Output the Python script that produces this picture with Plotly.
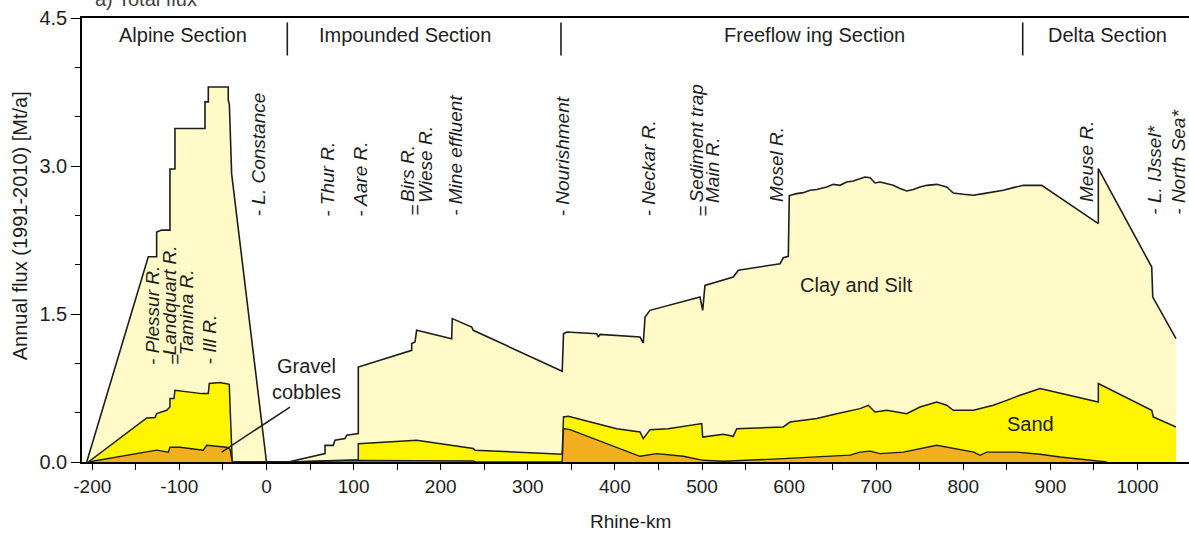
import plotly.graph_objects as go

# ---------------- data (Rhine-km, Mt/a) ----------------
total_km = [-206.4, -135.7, -126.1, -126.1, -120.3, -110.8, -110.8, -105.1, -105.1, -70.6, -70.6, -66.8, -66.8,
            -43.9, -43.9, -42.6, -40.0, 0.0,
            25.0, 67.2, 67.2, 76.7, 78.6, 90.1, 92.1, 105.4, 105.4, 166.7, 166.7, 170.5, 172.4, 212.6, 213.3,
            235.6, 237.4, 339.5, 341.0, 344.7, 379.1, 380.9, 382.9, 428.8, 432.6, 434.6, 440.3, 497.7, 500.8,
            503.4, 535.9, 541.7, 589.6, 593.3, 599.1, 600.2, 608.7, 616.3, 624.0, 631.7, 643.2, 650.7, 658.4,
            666.1, 673.7, 681.4, 687.1, 692.9, 698.6, 704.4, 712.1, 719.6, 727.3, 735.0, 742.6, 750.3, 758.0,
            769.5, 780.9, 788.5, 800.0, 811.5, 823.0, 834.4, 845.9, 857.4, 868.9, 890.0, 955.0, 955.0, 1016.3,
            1017.5, 1044.2]
total_flux = [0, 2.08, 2.08, 2.33, 2.35, 2.35, 2.97, 2.97, 3.38, 3.38, 3.65, 3.65, 3.80, 3.80, 3.67, 3.62, 2.92, 0,
              0, 0.085, 0.169, 0.169, 0.22, 0.237, 0.271, 0.288, 0.963, 1.132, 1.20, 1.216, 1.335, 1.25, 1.453,
              1.368, 1.335, 0.919, 1.30, 1.318, 1.30, 1.267, 1.294, 1.267, 1.206, 1.47, 1.537, 1.672, 1.537,
              1.79, 1.875, 1.943, 2.01, 2.07, 2.085, 2.70, 2.72, 2.73, 2.754, 2.761, 2.787, 2.814, 2.804,
              2.838, 2.848, 2.872, 2.888, 2.882, 2.828, 2.838, 2.822, 2.804, 2.771, 2.747, 2.761, 2.787, 2.804,
              2.814, 2.787, 2.726, 2.713, 2.703, 2.72, 2.736, 2.754, 2.781, 2.804, 2.804, 2.416, 2.974, 1.976,
              1.672, 1.25]

sand_km = [-204.6, -137.5, -128.0, -126.1, -114.6, -110.8, -110.8, -106.2, -105.1, -74.4, -66.8, -65.7, -53.4,
           -42.7, -41.9, -39.3, 25.0, 101.7, 105.4, 105.4, 168.3, 172.4, 237.4, 239.3, 339.5, 341.0, 346.5,
           380.9, 402.1, 428.8, 432.6, 440.3, 461.3, 499.7, 500.8, 524.5, 535.9, 539.9, 593.3, 601.0, 631.7,
           654.7, 681.4, 690.9, 698.6, 712.1, 735.0, 750.3, 769.5, 780.9, 788.5, 811.5, 834.4, 849.8, 865.1,
           888.1, 955.0, 955.0, 1016.3, 1018.1, 1044.2]
sand_top = [0, 0.446, 0.45, 0.49, 0.524, 0.557, 0.643, 0.643, 0.727, 0.693, 0.693, 0.795, 0.805, 0.787, 0.59, 0,
            0, 0.024, 0.024, 0.186, 0.213, 0.22, 0.136, 0.12, 0.078, 0.456, 0.463, 0.389, 0.338, 0.304, 0.237,
            0.328, 0.338, 0.389, 0.253, 0.281, 0.26, 0.338, 0.355, 0.405, 0.44, 0.49, 0.541, 0.575, 0.507,
            0.524, 0.49, 0.557, 0.608, 0.575, 0.524, 0.524, 0.575, 0.625, 0.676, 0.744, 0.608, 0.795, 0.524,
            0.456, 0.355]

gravel_km = [-204.6, -126.1, -112.7, -110.8, -99.3, -72.6, -68.7, -45.7, -41.9, -39.3, 25.0, 105.4, 237.4,
             240.0, 339.5, 341.0, 348.5, 371.4, 402.1, 428.8, 447.9, 478.5, 501.4, 524.4, 593.3, 669.9, 681.4,
             692.9, 704.4, 731.1, 769.5, 788.5, 812.0, 819.2, 826.9, 861.3, 888.1, 911.1, 949.3, 964.7]
gravel_top = [0, 0.12, 0.10, 0.15, 0.15, 0.12, 0.17, 0.15, 0.13, 0, 0, 0.015, 0.01, 0, 0, 0.338, 0.328, 0.253,
              0.152, 0.058, 0.085, 0.058, 0.017, 0.007, 0.034, 0.07, 0.10, 0.11, 0.085, 0.10, 0.169, 0.136,
              0.10, 0.068, 0.10, 0.10, 0.078, 0.051, 0.01, 0]

x_tick_vals = list(range(-200, 1001, 100))
x_tick_text = [str(v) for v in x_tick_vals]
x_minor_vals = list(range(-150, 1000, 100))
y_tick_vals = [0, 1.5, 3.0, 4.5]
y_tick_text = ["0.0", "1.5", "3.0", "4.5"]
y_minor_vals = [0.5, 1.0, 2.0, 2.5, 3.5, 4.0]

section_names = ["Alpine Section", "Impounded Section", "Freeflow ing Section", "Delta Section"]
section_centers_km = [-95.9, 159.0, 629.7, 965.0]
section_bounds_km = [23.9, 338.1, 868.2]

trib_labels = ["- Plessur R.", "Landquart R.", "Tamina R.", "=", "- Ill R.", "- L. Constance", "- Thur R.",
               "- Aare R.", "Birs R.", "Wiese R.", "=", "- Mine effluent", "- Nourishment", "- Neckar R.",
               "Sediment trap", "Main R.", "=", "Mosel R.", "Meuse R.", "- L. IJssel*", "- North Sea*"]
trib_km = [-130.3, -111.9, -92.4, -105.1, -64.9, -9.8, 70.6, 108.5, 162.5, 183.1, 170.5, 217.6, 339.3, 438.0,
           493.1, 512.6, 501.1, 586.1, 942.0, 1019.9, 1047.5]
trib_base = [0.968, 1.061, 1.061, 0.968, 0.968, 2.47, 2.47, 2.47, 2.61, 2.61, 2.47, 2.47, 2.47, 2.47,
             2.61, 2.61, 2.47, 2.61, 2.61, 2.49, 2.49]

# ---------------- styling ----------------
LINE = "#1e1e1e"
TXT = "#1e1e1e"
FONT = "Liberation Sans, Arial, sans-serif"

fig = go.Figure()
fig.add_trace(go.Scatter(x=total_km, y=total_flux, mode="lines", fill="tozeroy",
                         fillcolor="#FFFAC8", line=dict(color=LINE, width=1.6), hoverinfo="skip"))
fig.add_trace(go.Scatter(x=sand_km, y=sand_top, mode="lines", fill="tozeroy",
                         fillcolor="#FFF500", line=dict(color=LINE, width=1.5), hoverinfo="skip"))
fig.add_trace(go.Scatter(x=gravel_km, y=gravel_top, mode="lines", fill="tozeroy",
                         fillcolor="#F2B020", line=dict(color=LINE, width=1.4), hoverinfo="skip"))

ann = []
for name, xc in zip(section_names, section_centers_km):
    ann.append(dict(x=xc, y=4.325, xref="x", yref="y", text=name, showarrow=False,
                    font=dict(size=20, color=TXT, family=FONT), xanchor="center", yanchor="middle"))
for t, xk, yb in zip(trib_labels, trib_km, trib_base):
    ann.append(dict(x=xk, y=yb, xref="x", yref="y", text="<i>%s</i>" % t, showarrow=False, textangle=-90,
                    font=dict(size=19, color=TXT, family=FONT), xanchor="center", yanchor="bottom"))
ann.append(dict(x=45.4, y=0.838, xref="x", yref="y", text="Gravel<br>cobbles", showarrow=False,
                font=dict(size=20, color=TXT, family=FONT), xanchor="center", yanchor="middle"))
ann.append(dict(x=677.6, y=1.791, xref="x", yref="y", text="Clay and Silt", showarrow=False,
                font=dict(size=20, color=TXT, family=FONT), xanchor="center", yanchor="middle"))
ann.append(dict(x=877.5, y=0.389, xref="x", yref="y", text="Sand", showarrow=False,
                font=dict(size=20, color=TXT, family=FONT), xanchor="center", yanchor="middle"))
ann.append(dict(x=-0.0565, y=2.394, xref="paper", yref="y", text="Annual flux (1991-2010) [Mt/a]",
                showarrow=False, textangle=-90, font=dict(size=20, color=TXT, family=FONT),
                xanchor="center", yanchor="middle"))
ann.append(dict(x=417.9, y=-0.133, xref="x", yref="paper", text="Rhine-km", showarrow=False,
                font=dict(size=19, color=TXT, family=FONT), xanchor="center", yanchor="middle"))
ann.append(dict(x=0.0099, y=1.0135, xref="paper", yref="paper", text="a) Total flux", showarrow=False,
                font=dict(size=20, color="#444", family=FONT), xanchor="left", yanchor="bottom"))

shapes = []
for b in section_bounds_km:
    shapes.append(dict(type="line", xref="x", yref="y", x0=b, x1=b, y0=4.12, y1=4.455,
                       line=dict(color=LINE, width=1.6)))
shapes.append(dict(type="line", xref="x", yref="y", x0=27.0, y0=0.557, x1=-51.4, y1=0.101,
                   line=dict(color=LINE, width=1.5)))

fig.update_layout(
    width=1189, height=535, margin=dict(l=82, r=0, t=18, b=73),
    paper_bgcolor="white", plot_bgcolor="white", showlegend=False,
    font=dict(family=FONT, color=TXT),
    annotations=ann, shapes=shapes,
    xaxis=dict(range=[-211.8, 1059.1], showgrid=False, zeroline=False, showline=True, linecolor="black",
               linewidth=1.5, mirror=True, ticks="outside", ticklen=6, tickwidth=1.3, tickcolor="black",
               tickmode="array", tickvals=x_tick_vals, ticktext=x_tick_text,
               tickfont=dict(size=19, color=TXT, family=FONT),
               minor=dict(tickmode="array", tickvals=x_minor_vals, ticks="outside", ticklen=6, tickwidth=1.3,
                          tickcolor="black", showgrid=False)),
    yaxis=dict(range=[0, 4.5], showgrid=False, zeroline=False, showline=True, linecolor="black",
               linewidth=1.5, ticks="outside", ticklen=9, tickwidth=1.3, tickcolor="black",
               tickmode="array", tickvals=y_tick_vals, ticktext=y_tick_text,
               tickfont=dict(size=20, color=TXT, family=FONT),
               minor=dict(tickmode="array", tickvals=y_minor_vals, ticks="outside", ticklen=5, tickwidth=1.3,
                          tickcolor="black", showgrid=False)),
)

fig.write_html("out.html", config={"displayModeBar": False},
               post_script="document.body.style.margin='0';document.body.style.overflow='hidden';")
